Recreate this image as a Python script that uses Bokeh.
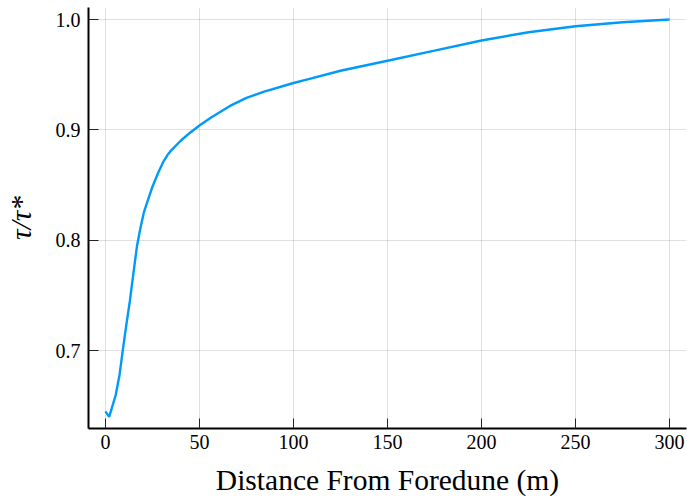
from bokeh.plotting import figure
from bokeh.models import Range1d, FixedTicker, PrintfTickFormatter
from bokeh.embed import file_html
from bokeh.resources import INLINE

# Data
distance = [0, 2, 5.5, 7.5, 9.2, 11, 13, 14.5, 16.8, 18.6, 20.4, 22.5, 25, 28, 31, 33, 35,
            40, 45, 50, 56, 66, 75, 84, 100, 108, 125, 150, 175, 200, 225, 250, 275, 300]
tau_ratio = [0.645, 0.640, 0.660, 0.678, 0.700, 0.722, 0.745, 0.765, 0.795, 0.811,
             0.825, 0.836, 0.8485, 0.861, 0.8718, 0.8772, 0.8815, 0.8902, 0.8975, 0.904,
             0.911, 0.9215, 0.929, 0.9345, 0.9425, 0.946, 0.9536, 0.9627, 0.9718, 0.981,
             0.9885, 0.9939, 0.9976, 1.0]
x_ticks = [0, 50, 100, 150, 200, 250, 300]
y_ticks = [0.7, 0.8, 0.9, 1.0]

FONT = "Liberation Serif"

p = figure(width=687, height=501, output_backend="svg", toolbar_location=None,
           x_range=Range1d(-9, 309), y_range=Range1d(0.6295, 1.0109),
           min_border_left=88, min_border_right=1, min_border_top=7,
           min_border_bottom=73)
p.outline_line_color = None
p.background_fill_color = "white"
p.border_fill_color = "white"

p.line(distance, tau_ratio, line_color="#009AFA", line_width=2.4)

for ax in (p.xaxis[0], p.yaxis[0]):
    ax.axis_line_color = "black"
    ax.axis_line_width = 2
    ax.major_tick_in = 10
    ax.major_tick_out = 0
    ax.major_tick_line_color = "#222222"
    ax.major_tick_line_width = 1
    ax.minor_tick_line_color = None
    ax.major_label_text_font = FONT
    ax.major_label_text_font_size = "20px"
    ax.major_label_text_color = "black"
    ax.axis_label_text_font = FONT
    ax.axis_label_text_color = "black"

p.xaxis.ticker = FixedTicker(ticks=x_ticks)
p.yaxis.ticker = FixedTicker(ticks=y_ticks)
p.yaxis.formatter = PrintfTickFormatter(format="%.1f")
p.xaxis.major_label_standoff = 6
p.yaxis.major_label_standoff = 8

p.xaxis.axis_label = "Distance From Foredune (m)"
p.xaxis.axis_label_text_font_size = "29.5px"
p.xaxis.axis_label_text_font_style = "normal"
p.xaxis.axis_label_standoff = 12

p.yaxis.axis_label = "τ/τ*"
p.yaxis.axis_label_text_font_size = "29.5px"
p.yaxis.axis_label_text_font_style = "italic"
p.yaxis.axis_label_standoff = 16

p.grid.grid_line_color = "black"
p.grid.grid_line_alpha = 0.12
p.grid.grid_line_width = 1
p.xgrid.ticker = FixedTicker(ticks=x_ticks)
p.ygrid.ticker = FixedTicker(ticks=y_ticks)

open("out.html", "w").write(file_html(p, INLINE))
